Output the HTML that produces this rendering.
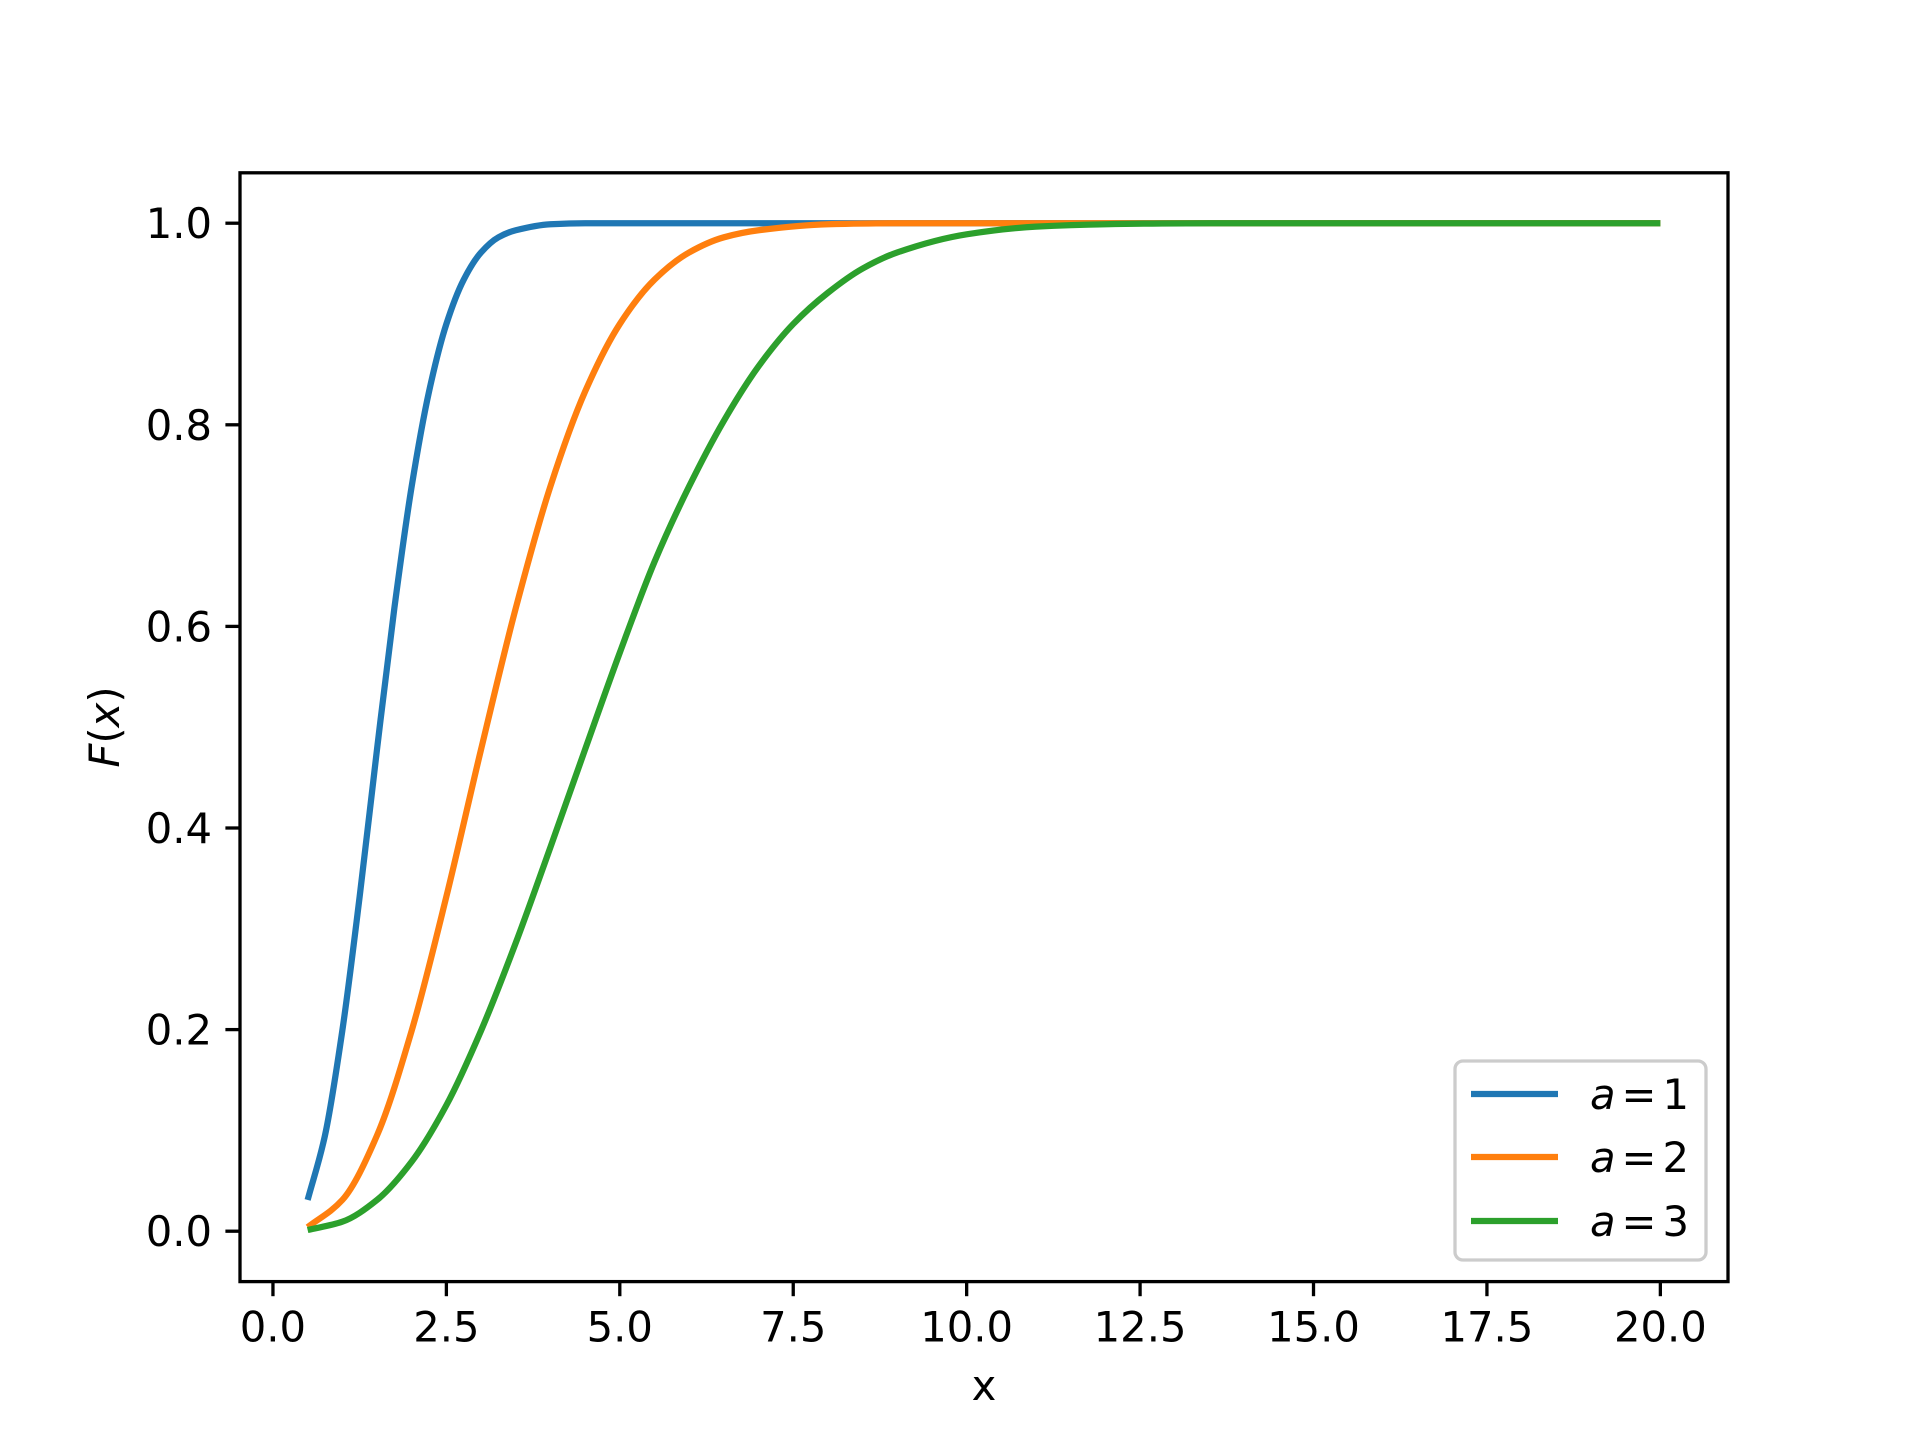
<!DOCTYPE html>
<html><head><meta charset="utf-8"><style>
html,body{margin:0;padding:0;background:#fff;}
svg{display:block;font-family:"DejaVu Sans","Liberation Sans",sans-serif;}
</style></head><body>
<svg id="chart" width="1920" height="1440" viewBox="0 0 1920 1440" xmlns="http://www.w3.org/2000/svg">
<rect width="1920" height="1440" fill="#fff"/>
<g id="grid"></g>
<g id="series"></g>
<rect x="240" y="172.8" width="1488" height="1108.8" fill="none" stroke="#000" stroke-width="3.3"/>
<text x="984" y="1400" font-size="41.7" text-anchor="middle">x</text>
<text transform="translate(119,727) rotate(-90)" font-size="41.7" text-anchor="middle"><tspan font-style="italic">F</tspan>(<tspan font-style="italic">x</tspan>)</text>
<g>
<rect x="1455" y="1061" width="251" height="199" rx="8" fill="#fff" fill-opacity="0.8" stroke="#ccc" stroke-width="3.3"/>
<line x1="1471" y1="1094" x2="1558" y2="1094" stroke="#1f77b4" stroke-width="6.25"/>
<text x="1590" y="1109" font-size="41.7"><tspan font-style="italic">a</tspan><tspan dx="6">=</tspan><tspan dx="6">1</tspan></text>
<line x1="1471" y1="1157" x2="1558" y2="1157" stroke="#ff7f0e" stroke-width="6.25"/>
<text x="1590" y="1172" font-size="41.7"><tspan font-style="italic">a</tspan><tspan dx="6">=</tspan><tspan dx="6">2</tspan></text>
<line x1="1471" y1="1221" x2="1558" y2="1221" stroke="#2ca02c" stroke-width="6.25"/>
<text x="1590" y="1236" font-size="41.7"><tspan font-style="italic">a</tspan><tspan dx="6">=</tspan><tspan dx="6">3</tspan></text>
</g>
</svg>
<script>
const xTicks = [0, 2.5, 5, 7.5, 10, 12.5, 15, 17.5, 20];
const xTickLabels = ["0.0","2.5","5.0","7.5","10.0","12.5","15.0","17.5","20.0"];
const yTicks = [0, 0.2, 0.4, 0.6, 0.8, 1.0];
const yTickLabels = ["0.0","0.2","0.4","0.6","0.8","1.0"];
const xA1 = [0.5,0.75,1,1.25,1.5,1.75,2,2.25,2.5,2.75,3,3.25,3.5,4,4.5,20];
const yA1 = [0.031,0.095,0.199,0.332,0.478,0.618,0.739,0.833,0.900,0.944,0.971,0.986,0.993,0.999,1,1];
const xA2 = [0.5,1,1.5,2,2.5,3,3.5,4,4.5,5,5.5,6,6.5,7,8,9,20];
const yA2 = [0.004,0.031,0.095,0.199,0.332,0.478,0.618,0.739,0.833,0.900,0.944,0.971,0.986,0.993,0.999,1,1];
const xA3 = [0.5,1,1.5,2,2.5,3,3.5,4,4.5,5,5.5,6,6.5,7,7.5,8,8.5,9,10,11,12,13.5,20];
const yA3 = [0.0012,0.0094,0.031,0.069,0.125,0.199,0.286,0.381,0.478,0.574,0.664,0.739,0.804,0.858,0.900,0.931,0.955,0.971,0.989,0.9966,0.999,1,1];

const L=240,R=1728,T=172.8,B=1281.6;
const xmin=-0.475,xmax=20.975,ymin=-0.05,ymax=1.05;
const sx=v=>L+(v-xmin)/(xmax-xmin)*(R-L);
const sy=v=>B-(v-ymin)/(ymax-ymin)*(B-T);
const NS="http://www.w3.org/2000/svg";
const g=document.getElementById('grid');
function mk(t,a,p){const e=document.createElementNS(NS,t);for(const k in a)e.setAttribute(k,a[k]);(p||g).appendChild(e);return e;}
xTicks.forEach((t,i)=>{
  const l=mk('line',{x1:sx(t),x2:sx(t),y1:B,y2:B+14.6,stroke:'#000','stroke-width':3.3});
  
  
  const tx=mk('text',{x:sx(t),y:B+60,'font-size':41.7,'text-anchor':'middle'});
  tx.textContent=xTickLabels[i];
  
  
});
yTicks.forEach((t,i)=>{
  const l=mk('line',{x1:L-14.6,x2:L,y1:sy(t),y2:sy(t),stroke:'#000','stroke-width':3.3});
  
  
  const tx=mk('text',{x:L-28,y:sy(t)+15,'font-size':41.7,'text-anchor':'end'});
  tx.textContent=yTickLabels[i];
  
  
});
function monoPath(xs,ys){
  const n=xs.length,d=[],m=[];
  for(let i=0;i<n-1;i++)d.push((ys[i+1]-ys[i])/(xs[i+1]-xs[i]));
  m[0]=d[0];m[n-1]=d[n-2];
  for(let i=1;i<n-1;i++){ if(d[i-1]*d[i]<=0)m[i]=0; else { const h0=xs[i]-xs[i-1],h1=xs[i+1]-xs[i]; const w1=2*h1+h0,w2=h1+2*h0; m[i]=(w1+w2)/(w1/d[i-1]+w2/d[i]); } }
  let p='M'+sx(xs[0])+','+sy(ys[0]);
  for(let i=0;i<n-1;i++){const h=xs[i+1]-xs[i];
    p+=' C'+sx(xs[i]+h/3)+','+sy(ys[i]+m[i]*h/3)+' '+sx(xs[i+1]-h/3)+','+sy(ys[i+1]-m[i+1]*h/3)+' '+sx(xs[i+1])+','+sy(ys[i+1]);}
  return p;
}
const sg=document.getElementById('series');
const s1=mk('path',{d:monoPath(xA1,yA1),fill:'none',stroke:'#1f77b4','stroke-width':6.25},sg);


const s2=mk('path',{d:monoPath(xA2,yA2),fill:'none',stroke:'#ff7f0e','stroke-width':6.25},sg);


const s3=mk('path',{d:monoPath(xA3,yA3),fill:'none',stroke:'#2ca02c','stroke-width':6.25},sg);


</script>
</body></html>
